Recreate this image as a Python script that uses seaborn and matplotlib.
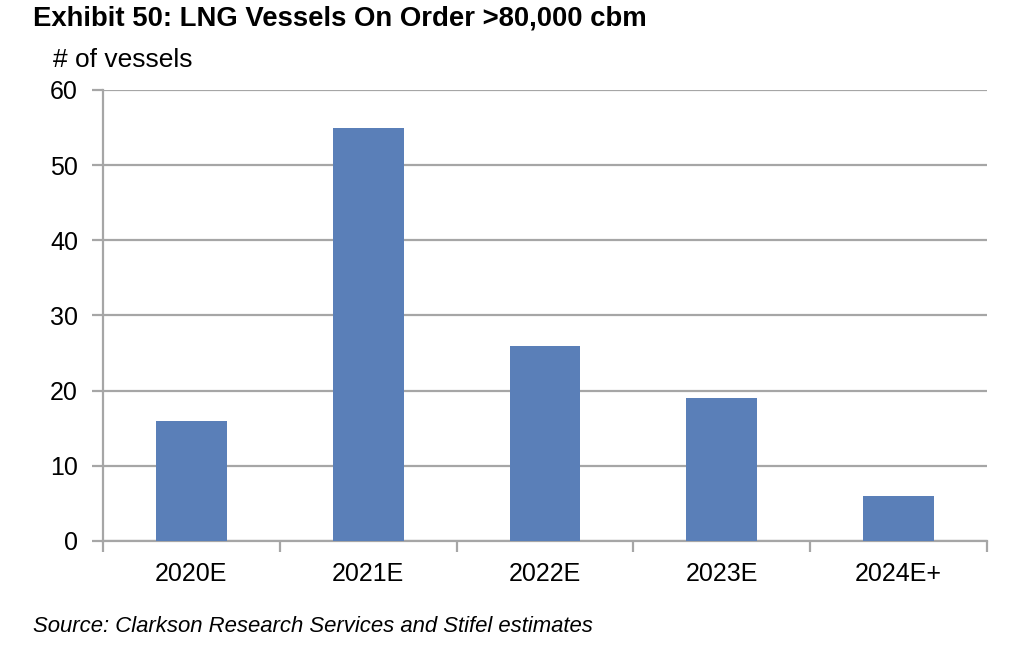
import numpy as np
import pandas
import seaborn as sns
from matplotlib import pyplot as plt
from matplotlib.ticker import FixedLocator

BAR_COLOR = "#5A7FB8"
GRID_COLOR = "#A6A6A6"

years = ["2020E", "2021E", "2022E", "2023E", "2024E+"]
vessels = [16, 55, 26, 19, 6]
y_ticks = [0, 10, 20, 30, 40, 50, 60]

sns.set_style("white")
plt.rcParams["font.family"] = ["Liberation Sans", "DejaVu Sans"]
plt.rcParams["text.color"] = "black"
plt.rcParams["xtick.labelcolor"] = "black"
plt.rcParams["ytick.labelcolor"] = "black"

df = pandas.DataFrame({"year": years, "vessels": vessels})

fig = plt.figure(figsize=(10.24, 6.51), dpi=100)
ax = fig.add_axes([0.1006, 0.169, 0.8633, 0.6928])

sns.barplot(data=df, x="year", y="vessels", color=BAR_COLOR, width=0.4,
            saturation=1, linewidth=0, edgecolor="none", ax=ax, zorder=3)

ax.set_xlim(-0.5, len(years) - 0.5)
ax.set_ylim(0, 60)
ax.set_yticks(y_ticks)
ax.yaxis.grid(True, color=GRID_COLOR, linewidth=1.6, zorder=0)
ax.set_axisbelow(True)

for side in ["top", "right"]:
    ax.spines[side].set_visible(False)
for side in ["left", "bottom"]:
    ax.spines[side].set_color(GRID_COLOR)
    ax.spines[side].set_linewidth(1.6)

ax.xaxis.set_minor_locator(FixedLocator(np.arange(-0.5, len(years), 1.0)))
ax.tick_params(axis="x", which="major", length=0, pad=15, labelsize=18, labelcolor="black")
ax.tick_params(axis="x", which="minor", length=8, width=1.6, color=GRID_COLOR,
               direction="out", bottom=True)
ax.tick_params(axis="y", which="major", length=8, width=1.6, color=GRID_COLOR,
               direction="out", pad=10, labelsize=18, labelcolor="black", left=True)
ax.set_xlabel("")
ax.set_ylabel("")

fig.text(0.032, 0.972, "Exhibit 50: LNG Vessels On Order >80,000 cbm",
         fontsize=19.8, fontweight="bold", ha="left", va="center", color="black")
fig.text(0.052, 0.908, "# of vessels", fontsize=19, ha="left", va="center", color="black")
fig.text(0.032, 0.037, "Source: Clarkson Research Services and Stifel estimates",
         fontsize=15.9, style="italic", ha="left", va="center", color="black")

fig.savefig("out.png", dpi=100)
plt.close()
